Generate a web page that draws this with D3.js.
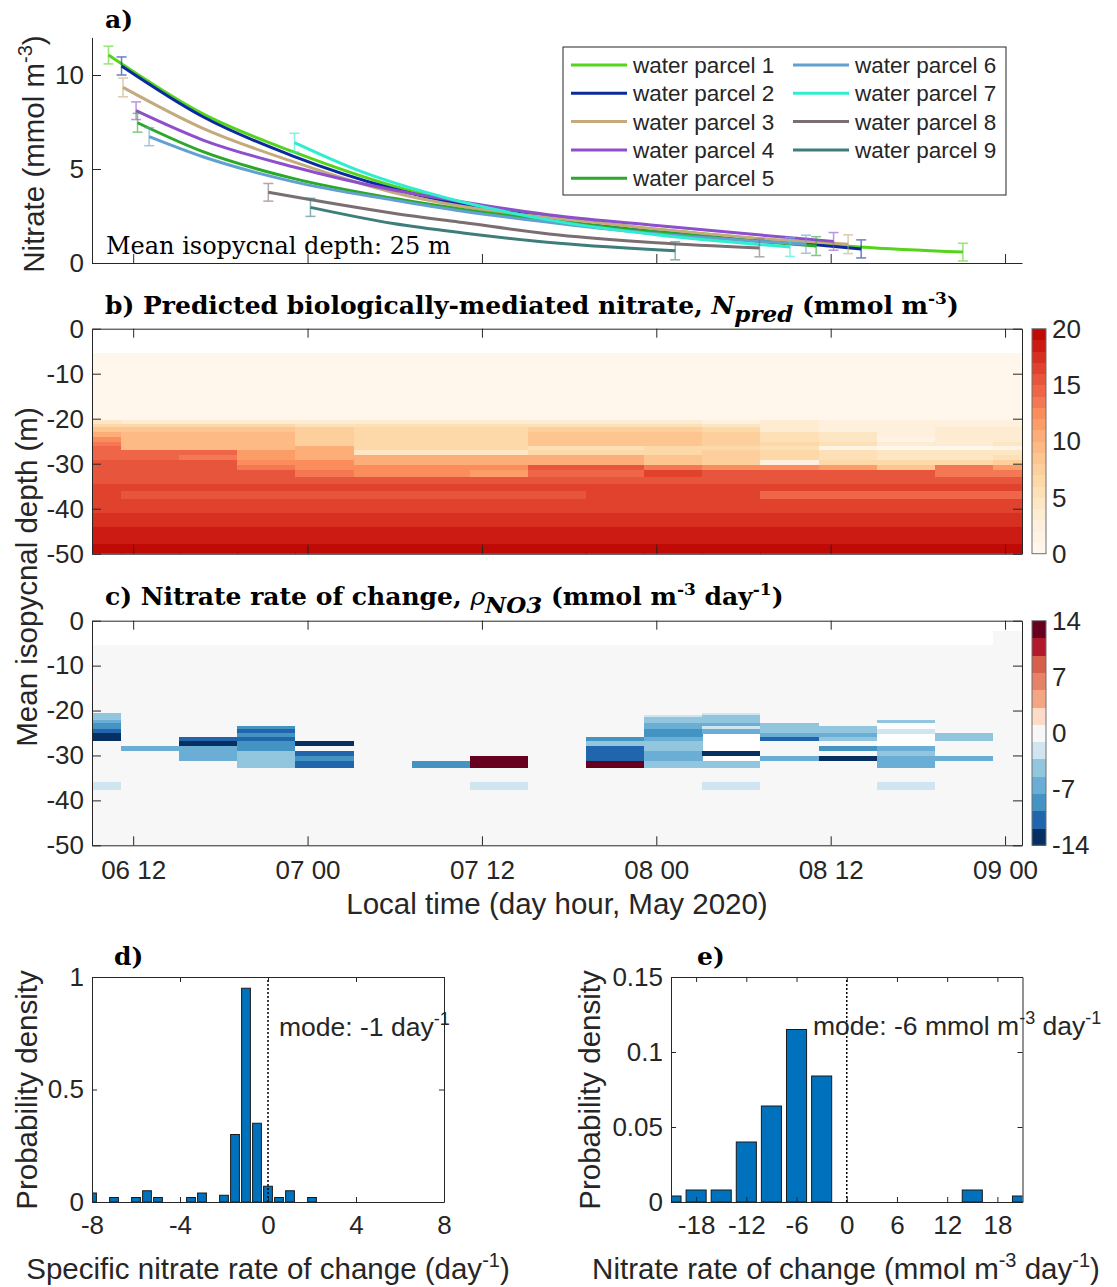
<!DOCTYPE html>
<html>
<head>
<meta charset="utf-8">
<script src="https://cdn.jsdelivr.net/npm/d3@7"></script>
<style>
  body { margin: 0; background: #fff; }
  svg { display: block; }
  text { font-family: "Liberation Sans", Arial, sans-serif; fill: #262626; }
  .serif { font-family: "DejaVu Serif", "Liberation Serif", serif; fill: #000; }
</style>
</head>
<body>
<svg id="chart" width="1117" height="1287"></svg>
<script>
//* Data
// hours since 2020-05-06 00:00 local time
const parcelNames = ["water parcel 1", "water parcel 2", "water parcel 3", "water parcel 4", "water parcel 5",
  "water parcel 6", "water parcel 7", "water parcel 8", "water parcel 9"];
const parcelHours = [
  [10.3, 16.8, 23.0, 29.9, 34.7, 41.3, 48, 55, 62, 69.1],
  [11.2, 16.8, 23.0, 29.9, 34.7, 41.3, 48, 55, 62.1],
  [11.3, 16.8, 23.0, 29.9, 34.7, 41.3, 48, 55, 61.2],
  [12.2, 16.8, 23.0, 29.9, 34.7, 41.3, 48, 55, 60.2],
  [12.3, 16.8, 23.0, 29.9, 34.7, 41.3, 48, 55, 59.0],
  [13.1, 16.8, 23.0, 29.9, 34.7, 41.3, 48, 55, 58.3],
  [23.1, 27.4, 32.3, 41.3, 48, 57.2],
  [21.3, 29.9, 34.7, 41.3, 48, 55.1],
  [24.2, 29.9, 34.7, 41.3, 49.3],
];
const parcelNitrate = [
  [11.06, 7.93, 5.92, 4.1, 3.2, 2.4, 1.8, 1.3, 0.85, 0.58],
  [10.48, 7.78, 5.69, 3.95, 3.1, 2.35, 1.75, 1.25, 0.75],
  [9.34, 7.16, 5.39, 3.75, 3.0, 2.35, 1.8, 1.3, 1.0],
  [8.1, 6.54, 5.12, 3.88, 3.25, 2.5, 2.0, 1.5, 1.15],
  [7.46, 5.92, 4.5, 3.44, 2.85, 2.2, 1.65, 1.15, 0.9],
  [6.72, 5.65, 4.33, 3.35, 2.75, 2.1, 1.55, 1.15, 1.0],
  [6.4, 4.95, 3.72, 2.2, 1.5, 0.85],
  [3.76, 2.65, 2.15, 1.49, 1.08, 0.8],
  [2.96, 2.1, 1.6, 1.05, 0.65],
];
const parcelError = [0.47, 0.48, 0.5, 0.47, 0.5, 0.48, 0.5, 0.47, 0.48];

// 4-hour bins (edges, hours since May 6 00:00)
const binEdgeHours = [7.17, 11.17, 15.17, 19.17, 23.17, 27.17, 31.17, 35.17, 39.17, 43.17,
  47.17, 51.17, 55.17, 59.17, 63.17, 67.17, 71.17, 75.17];

// panel b: layer edges (m below surface) and N_pred per time bin
const nPredDepthEdges = [5.5, 20.3, 21.1, 21.9, 22.9, 24.0, 25.1, 26.1, 27.0, 28.1, 29.2,
  30.3, 31.5, 32.9, 34.4, 36.1, 37.9, 40.9, 44.0, 47.9, 50];
const nPred = [
  [0.5, 4.5, 6.5, 8.5, 10.5, 12.5, 13.5, 14.5, 14.5, 14.5, 15.5, 15.5, 15.5, 15.5, 16.5, 16.5, 16.5, 17.5, 18.5, 19.5],
  [0.5, 3.5, 6.5, 8.5, 9.5, 9.5, 9.5, 9.5, 14.5, 14.5, 15.5, 15.5, 15.5, 15.5, 16.5, 15.5, 16.5, 17.5, 18.5, 19.5],
  [0.5, 3.5, 6.5, 8.5, 9.5, 9.5, 9.5, 9.5, 14.5, 13.5, 15.5, 15.5, 15.5, 15.5, 16.5, 15.5, 16.5, 17.5, 18.5, 19.5],
  [0.5, 3.5, 6.5, 8.5, 9.5, 9.5, 9.5, 9.5, 11.5, 11.5, 12.5, 13.5, 15.5, 15.5, 16.5, 15.5, 16.5, 17.5, 18.5, 19.5],
  [0.5, 3.5, 5.5, 7.5, 7.5, 7.5, 7.5, 10.5, 10.5, 10.5, 12.5, 12.5, 13.5, 15.5, 16.5, 15.5, 16.5, 17.5, 18.5, 19.5],
  [0.5, 3.5, 5.5, 6.5, 6.5, 6.5, 6.5, 6.5, 4.5, 10.5, 10.5, 12.5, 12.5, 15.5, 16.5, 15.5, 16.5, 17.5, 18.5, 19.5],
  [0.5, 3.5, 5.5, 6.5, 6.5, 6.5, 6.5, 6.5, 4.5, 10.5, 10.5, 12.5, 12.5, 15.5, 16.5, 15.5, 16.5, 17.5, 18.5, 19.5],
  [0.5, 3.5, 5.5, 6.5, 6.5, 6.5, 6.5, 6.5, 4.5, 10.5, 10.5, 12.5, 11.5, 15.5, 16.5, 15.5, 16.5, 17.5, 18.5, 19.5],
  [0.5, 3.5, 5.5, 7.5, 8.5, 8.5, 8.5, 5.5, 6.5, 10.5, 10.5, 15.5, 14.5, 15.5, 16.5, 15.5, 16.5, 17.5, 18.5, 19.5],
  [0.5, 3.5, 5.5, 7.5, 8.5, 8.5, 8.5, 5.5, 6.5, 10.5, 10.5, 15.5, 14.5, 15.5, 16.5, 16.5, 16.5, 17.5, 18.5, 19.5],
  [0.5, 3.5, 5.5, 7.5, 8.5, 8.5, 8.5, 6.5, 6.5, 8.5, 8.5, 13.5, 16.5, 15.5, 16.5, 16.5, 16.5, 17.5, 18.5, 19.5],
  [0.5, 2.5, 4.5, 6.5, 7.5, 7.5, 7.5, 6.5, 7.5, 7.5, 7.5, 12.5, 15.5, 15.5, 16.5, 16.5, 16.5, 17.5, 18.5, 19.5],
  [0.5, 3.5, 3.5, 3.5, 5.5, 5.5, 6.5, 5.5, 6.5, 6.5, 2.5, 12.5, 15.5, 15.5, 16.5, 14.5, 16.5, 17.5, 18.5, 19.5],
  [0.5, 2.5, 2.5, 2.5, 4.5, 4.5, 5.5, 1.5, 5.5, 5.5, 6.5, 11.5, 15.5, 15.5, 16.5, 14.5, 16.5, 17.5, 18.5, 19.5],
  [0.5, 2.5, 2.5, 2.5, 2.5, 1.5, 3.5, 0.2, 4.5, 4.5, 6.5, 8.5, 15.5, 15.5, 16.5, 14.5, 16.5, 17.5, 18.5, 19.5],
  [0.5, 2.5, 2.5, 3.5, 3.5, 3.5, 3.5, 0.2, 4.5, 4.5, 6.5, 13.5, 13.5, 15.5, 16.5, 14.5, 16.5, 17.5, 18.5, 19.5],
  [0.5, 2.5, 2.5, 3.5, 3.5, 3.5, 4.5, 1.5, 4.5, 5.5, 7.5, 11.5, 13.5, 15.5, 16.5, 14.5, 16.5, 17.5, 18.5, 19.5],
];

// panel c: layer edges and nitrate rate of change (null = no data)
const rateDepthEdges = [5.5, 20.5, 21.0, 21.5, 22.1, 22.7, 23.5, 24.1, 25.0, 25.8, 26.8,
  27.8, 29.0, 30.1, 31.2, 32.7, 35.8, 37.7, 50];
const rateTopDepth = [5.5, 5.5, 5.5, 5.5, 5.5, 5.5, 5.5, 5.5, 5.5, 5.5, 5.5, 5.5, 5.5, 5.5, 5.5, 5.5, 2.2];
const rate = [
  [0, -4.5, -4.5, -4.5, -6.5, -8.5, -8.5, -11, -13, -13, 0, 0, 0, 0, 0, 0, -2, 0],
  [0, 0, 0, 0, 0, 0, 0, 0, 0, 0, 0, -6.5, 0, 0, 0, 0, 0, 0],
  [0, 0, 0, 0, 0, 0, 0, 0, 0, -11, -13, -6.5, -6.5, -6.5, 0, 0, 0, 0],
  [0, 0, 0, 0, 0, 0, -8.5, -11, -8.5, -11, -8.5, -8.5, -4.5, -4.5, -4.5, 0, 0, 0],
  [0, 0, 0, 0, 0, 0, 0, 0, 0, 0, -13, 0, -11, -8.5, -11, 0, 0, 0],
  [0, 0, 0, 0, 0, 0, 0, 0, 0, 0, 0, 0, 0, 0, 0, 0, 0, 0],
  [0, 0, 0, 0, 0, 0, 0, 0, 0, 0, 0, 0, 0, 0, -8.5, 0, 0, 0],
  [0, 0, 0, 0, 0, 0, 0, 0, 0, 0, 0, 0, 0, 13, 13, 0, -2, 0],
  [0, 0, 0, 0, 0, 0, 0, 0, 0, 0, 0, 0, 0, 0, 0, 0, 0, 0],
  [0, 0, 0, 0, 0, 0, 0, 0, 0, -8.5, -4.5, -11, -11, -11, 13, 0, 0, 0],
  [0, 0, -2, -4.5, -4.5, -6.5, -6.5, -8.5, -8.5, -6.5, -4.5, -4.5, -6.5, -6.5, -4.5, 0, 0, 0],
  [0, -2, -4.5, -4.5, -4.5, -6.5, -2, -6.5, null, null, null, null, -13, null, -4.5, 0, -2, 0],
  [0, 0, 0, 0, 0, -4.5, -4.5, -4.5, -6.5, -11, 0, 0, 0, -6.5, 0, 0, 0, 0],
  [0, 0, 0, 0, 0, 0, -4.5, -4.5, -6.5, -4.5, 0, -8.5, 0, -13, 0, 0, 0, 0],
  [0, 0, 0, 0, -4.5, null, null, -2, null, null, null, -6.5, -4.5, -6.5, -6.5, 0, -2, 0],
  [0, 0, 0, 0, 0, 0, 0, 0, -4.5, -4.5, 0, 0, 0, -6.5, 0, 0, 0, 0],
  [0, 0, 0, 0, 0, 0, 0, 0, 0, 0, 0, 0, 0, 0, 0, 0, 0, 0],
];

// panel d and e histograms (bin centres, probability density)
const specificCenters = [-8, -7, -6, -5.5, -5, -3.5, -3, -2, -1.5, -1, -0.5, 0, 0.5, 1, 2];
const specificDensity = [0.04, 0.02, 0.02, 0.05, 0.02, 0.02, 0.04, 0.03, 0.30, 0.95, 0.35, 0.07, 0.02, 0.05, 0.02];
const rateCenters = [-21, -18, -15, -12, -9, -6, -3, 15, 21];
const rateDensity = [0.004, 0.008, 0.008, 0.040, 0.064, 0.115, 0.084, 0.008, 0.004];

const nitrateTicks = [0, 5, 10];
const depthTicks = [-50, -40, -30, -20, -10, 0];
const nPredBarTicks = [0, 5, 10, 15, 20];
const rateBarTicks = [-14, -7, 0, 7, 14];
const specificTicks = [-8, -4, 0, 4, 8];
const rateHistTicks = [-18, -12, -6, 0, 6, 12, 18];

//* Styles
const axisColor = "#262626";
const tickFont = 26;
const labelFont = 29.5;
const titleFont = 25;
const parcelColors = ["#55d41c", "#0b2a9e", "#c4aa7c", "#8e4fcc", "#2aa82a", "#62a0cf", "#30ecd0", "#7b6e73", "#3f7c7c"];
const redsPalette = ["#fff6ec", "#fff3e6", "#fff0de", "#feecd2", "#fde6c3", "#fde0b5", "#fdd8a8", "#fdcf9c",
  "#fdc590", "#fdba84", "#fcad78", "#fc9d68", "#fb8d5d", "#f47853", "#ef6548", "#e8553d", "#e0422e",
  "#d83020", "#cc1b12", "#c00a06"];
const rdbuPalette = ["#053061", "#2166ac", "#4393c3", "#6aaed6", "#92c5de", "#d1e5f0", "#f7f7f7",
  "#fddbc7", "#f4a582", "#e58268", "#d6604d", "#b2182b", "#67001f"];
const barBlue = "#0072bd";

const svg = d3.select("#chart");
const t0 = new Date(2020, 4, 6, 0, 0);
const toDate = (h) => new Date(t0.getTime() + h * 36e5);

const x = d3.scaleTime().domain([toDate(9 + 1 / 6), toDate(73 + 1 / 6)]).range([92, 1022]);
const timeTicks = x.ticks(d3.timeHour.every(12));
const noLabel = () => "";
const plain = (d) => `${d}`;

function styleAxis(g, size = tickFont) {
  g.select(".domain").attr("stroke", axisColor);
  g.selectAll(".tick line").attr("stroke", axisColor);
  g.selectAll(".tick text").attr("fill", axisColor).style("font-size", `${size}px`);
  return g;
}

function boxAxes(xScale, yScale, opts) {
  const [x0, x1] = xScale.range();
  const [y0, y1] = yScale.range();
  const tl = opts.tickLen;
  const g = svg.append("g");
  g.append("g").attr("transform", `translate(0,${y0})`)
    .call(d3.axisBottom(xScale).tickValues(opts.xTicks).tickSize(-tl).tickSizeOuter(0)
      .tickPadding(opts.xPad || 10).tickFormat(opts.xFormat || noLabel))
    .call(styleAxis);
  g.append("g").attr("transform", `translate(0,${y1})`)
    .call(d3.axisTop(xScale).tickValues(opts.xTicks).tickSize(-tl).tickSizeOuter(0).tickFormat(noLabel))
    .call(styleAxis);
  g.append("g").attr("transform", `translate(${x0},0)`)
    .call(d3.axisLeft(yScale).tickValues(opts.yTicks).tickSize(-tl).tickSizeOuter(0)
      .tickPadding(8).tickFormat(opts.yFormat || plain))
    .call(styleAxis);
  g.append("g").attr("transform", `translate(${x1},0)`)
    .call(d3.axisRight(yScale).tickValues(opts.yTicks).tickSize(-tl).tickSizeOuter(0).tickFormat(noLabel))
    .call(styleAxis);
  return g;
}

function clipRect(id, x0, y0, w, h) {
  svg.append("clipPath").attr("id", id).append("rect")
    .attr("x", x0).attr("y", y0).attr("width", w).attr("height", h);
}

// text with super/subscript pieces: parts = [[str, "sup"|"sub"|null, extraStyle]]
function richText(t, parts, baseSize) {
  const small = Math.round(baseSize * 0.68);
  const up = Math.round(baseSize * 0.4);
  let shift = 0;
  parts.forEach(([str, kind, style]) => {
    const target = kind === "sup" ? -up : kind === "sub" ? Math.round(baseSize * 0.32) : 0;
    const ts = t.append("tspan").attr("dy", target - shift).text(str);
    shift = target;
    if (kind) ts.style("font-size", `${kind === "sub" ? Math.round(baseSize * 0.92) : small}px`);
    if (style) Object.entries(style).forEach(([k, v]) => ts.style(k, v));
  });
}

//* Panel a
const yA = d3.scaleLinear().domain([0, 12]).range([263, 37.4]);
const gA = svg.append("g");
gA.append("g").attr("transform", "translate(0,263)")
  .call(d3.axisBottom(x).tickValues(timeTicks).tickSize(-9).tickSizeOuter(0).tickFormat(noLabel))
  .call(styleAxis);
gA.append("g").attr("transform", "translate(92,0)")
  .call(d3.axisLeft(yA).tickValues(nitrateTicks).tickSize(-9).tickSizeOuter(0).tickPadding(8))
  .call(styleAxis);

const parcelLine = d3.line()
  .x((d) => x(toDate(d[0])))
  .y((d) => yA(d[1]))
  .curve(d3.curveMonotoneX);

parcelHours.forEach((hours, i) => {
  const pts = hours.map((h, j) => [h, parcelNitrate[i][j]]);
  gA.append("path")
    .attr("d", parcelLine(pts))
    .attr("fill", "none")
    .attr("stroke", parcelColors[i])
    .attr("stroke-width", 3);
  [pts[0], pts[pts.length - 1]].forEach((p) => {
    const cx = x(toDate(p[0]));
    const top = yA(p[1] + parcelError[i]);
    const bot = yA(p[1] - parcelError[i]);
    const eb = gA.append("g").attr("stroke", parcelColors[i]).attr("stroke-width", 1.5).attr("opacity", 0.6);
    eb.append("line").attr("x1", cx).attr("x2", cx).attr("y1", top).attr("y2", bot);
    eb.append("line").attr("x1", cx - 5).attr("x2", cx + 5).attr("y1", top).attr("y2", top);
    eb.append("line").attr("x1", cx - 5).attr("x2", cx + 5).attr("y1", bot).attr("y2", bot);
  });
});

gA.append("text").attr("class", "serif").attr("x", 106).attr("y", 254)
  .style("font-size", "24px").text("Mean isopycnal depth: 25 m");

// legend
const legend = svg.append("g");
legend.append("rect").attr("x", 563).attr("y", 47).attr("width", 443).attr("height", 148)
  .attr("fill", "#fff").attr("stroke", axisColor).attr("stroke-width", 1);
parcelNames.forEach((name, i) => {
  const col = i < 5 ? 0 : 1;
  const row = i < 5 ? i : i - 5;
  const lx = col === 0 ? 571 : 793;
  const ly = 65 + row * 28.3;
  legend.append("line").attr("x1", lx).attr("x2", lx + 56).attr("y1", ly).attr("y2", ly)
    .attr("stroke", parcelColors[i]).attr("stroke-width", 3);
  legend.append("text").attr("x", lx + 62).attr("y", ly).attr("dy", "0.36em")
    .style("font-size", "22.5px").attr("fill", "#000").text(name);
});

svg.append("text").attr("class", "serif").attr("x", 105).attr("y", 28)
  .style("font-size", `${titleFont}px`).style("font-weight", "bold").text("a)");

svg.append("text").attr("transform", "translate(44,154) rotate(-90)").attr("text-anchor", "middle")
  .style("font-size", `${labelFont}px`)
  .call((t) => richText(t, [["Nitrate (mmol m"], ["-3", "sup"], [")"]], labelFont));

//* Panel b
const yB = d3.scaleLinear().domain([-50, 0]).range([553.7, 328.7]);
const redScale = d3.scaleQuantize().domain([0, 20]).range(redsPalette);
clipRect("clip-b", 92, 328.7, 930, 225);
const gB = svg.append("g").attr("clip-path", "url(#clip-b)");
nPred.forEach((col, k) => {
  const xl = x(toDate(binEdgeHours[k]));
  const xr = x(toDate(binEdgeHours[k + 1]));
  col.forEach((v, j) => {
    const yt = yB(-nPredDepthEdges[j]);
    const yb = yB(-nPredDepthEdges[j + 1]);
    gB.append("rect").attr("x", xl).attr("y", yt).attr("width", xr - xl + 0.5).attr("height", yb - yt + 0.5)
      .attr("fill", redScale(v)).attr("shape-rendering", "crispEdges");
  });
});
boxAxes(x, yB, { xTicks: timeTicks, yTicks: depthTicks, tickLen: 9 });

// colorbar b
const cbB = d3.scaleLinear().domain([0, 20]).range([553.7, 328.7]);
const gCbB = svg.append("g");
redsPalette.forEach((c, i) => {
  gCbB.append("rect").attr("x", 1032).attr("y", cbB(i + 1)).attr("width", 14)
    .attr("height", cbB(i) - cbB(i + 1) + 0.5).attr("fill", c).attr("shape-rendering", "crispEdges");
});
gCbB.append("rect").attr("x", 1032).attr("y", 328.7).attr("width", 14).attr("height", 225)
  .attr("fill", "none").attr("stroke", "#6e6e6e");
nPredBarTicks.forEach((t) => {
  gCbB.append("text").attr("x", 1052).attr("y", cbB(t)).attr("dy", "0.35em")
    .style("font-size", `${tickFont}px`).text(t);
});

svg.append("text").attr("class", "serif").attr("x", 105).attr("y", 314)
  .style("font-size", `${titleFont}px`).style("font-weight", "bold")
  .call((t) => richText(t, [
    ["b) Predicted biologically-mediated nitrate, "],
    ["N", null, { "font-style": "italic" }],
    ["pred", "sub", { "font-style": "italic" }],
    [" (mmol m"],
    ["-3", "sup"],
    [")"],
  ], titleFont));

//* Panel c
const yC = d3.scaleLinear().domain([-50, 0]).range([845.3, 620.7]);
const rateScale = d3.scaleQuantize().domain([-14, 14]).range(rdbuPalette);
clipRect("clip-c", 92, 620.7, 930, 224.6);
const gC = svg.append("g").attr("clip-path", "url(#clip-c)");
rate.forEach((col, k) => {
  const xl = x(toDate(binEdgeHours[k]));
  const xr = x(toDate(binEdgeHours[k + 1]));
  col.forEach((v, j) => {
    if (v === null) return;
    const top = j === 0 ? rateTopDepth[k] : rateDepthEdges[j];
    const yt = yC(-top);
    const yb = yC(-rateDepthEdges[j + 1]);
    gC.append("rect").attr("x", xl).attr("y", yt).attr("width", xr - xl + 0.5).attr("height", yb - yt + 0.5)
      .attr("fill", rateScale(v)).attr("shape-rendering", "crispEdges");
  });
});
boxAxes(x, yC, {
  xTicks: timeTicks, yTicks: depthTicks, tickLen: 9, xPad: 15,
  xFormat: d3.timeFormat("%d %H"),
});

// colorbar c
const cbC = d3.scaleLinear().domain([-14, 14]).range([845.3, 620.7]);
const gCbC = svg.append("g");
const band = 28 / rdbuPalette.length;
rdbuPalette.forEach((c, i) => {
  const lo = -14 + i * band;
  gCbC.append("rect").attr("x", 1032).attr("y", cbC(lo + band)).attr("width", 14)
    .attr("height", cbC(lo) - cbC(lo + band) + 0.5).attr("fill", c).attr("shape-rendering", "crispEdges");
});
gCbC.append("rect").attr("x", 1032).attr("y", 620.7).attr("width", 14).attr("height", 224.6)
  .attr("fill", "none").attr("stroke", "#6e6e6e");
rateBarTicks.forEach((t) => {
  gCbC.append("text").attr("x", 1052).attr("y", cbC(t)).attr("dy", "0.35em")
    .style("font-size", `${tickFont}px`).text(t);
});

svg.append("text").attr("class", "serif").attr("x", 105).attr("y", 605)
  .style("font-size", `${titleFont}px`).style("font-weight", "bold")
  .call((t) => richText(t, [
    ["c) Nitrate rate of change, "],
    ["ρ", null, { "font-style": "italic", "font-weight": "normal" }],
    ["NO3", "sub", { "font-style": "italic" }],
    [" (mmol m"],
    ["-3", "sup"],
    [" day"],
    ["-1", "sup"],
    [")"],
  ], titleFont));

svg.append("text").attr("transform", "translate(37,577) rotate(-90)").attr("text-anchor", "middle")
  .style("font-size", `${labelFont}px`).text("Mean isopycnal depth (m)");
svg.append("text").attr("x", 557).attr("y", 914).attr("text-anchor", "middle")
  .style("font-size", `${labelFont}px`).text("Local time (day hour, May 2020)");

//* Panels d and e
function histogram(cfg) {
  const xs = d3.scaleLinear().domain(cfg.xDomain).range(cfg.xRange);
  const ys = d3.scaleLinear().domain(cfg.yDomain).range([1202, 977]);
  clipRect(cfg.id, cfg.xRange[0], 977, cfg.xRange[1] - cfg.xRange[0], 225);
  const g = svg.append("g").attr("clip-path", `url(#${cfg.id})`);
  g.selectAll("rect")
    .data(cfg.centers.map((c, i) => [c, cfg.density[i]]))
    .join("rect")
    .attr("x", (d) => xs(d[0] - cfg.halfWidth))
    .attr("y", (d) => ys(d[1]))
    .attr("width", (d) => xs(d[0] + cfg.halfWidth) - xs(d[0] - cfg.halfWidth))
    .attr("height", (d) => ys(0) - ys(d[1]))
    .attr("fill", barBlue)
    .attr("stroke", "#1a1a1a")
    .attr("stroke-width", 1);
  svg.append("line").attr("x1", xs(0)).attr("x2", xs(0)).attr("y1", ys(0)).attr("y2", ys(cfg.yDomain[1]))
    .attr("stroke", "#000").attr("stroke-width", 1.5).attr("stroke-dasharray", "2,2");
  boxAxes(xs, ys, {
    xTicks: cfg.xTicks, yTicks: cfg.yTicks, tickLen: 5, xPad: 14,
    xFormat: plain, yFormat: plain,
  });
  return xs;
}

histogram({
  id: "clip-d", xDomain: [-8, 8], xRange: [92, 444], yDomain: [0, 1],
  centers: specificCenters, density: specificDensity, halfWidth: 0.2,
  xTicks: specificTicks, yTicks: [0, 0.5, 1],
});
histogram({
  id: "clip-e", xDomain: [-21, 21], xRange: [671, 1022.5], yDomain: [0, 0.15],
  centers: rateCenters, density: rateDensity, halfWidth: 1.2,
  xTicks: rateHistTicks, yTicks: [0, 0.05, 0.1, 0.15],
});

const modeFont = 26.5;
svg.append("text").attr("x", 279).attr("y", 1036).style("font-size", `${modeFont}px`).attr("fill", "#000")
  .call((t) => richText(t, [["mode: -1 day"], ["-1", "sup"]], modeFont));
svg.append("text").attr("x", 813).attr("y", 1035).style("font-size", `${modeFont}px`).attr("fill", "#000")
  .call((t) => richText(t, [["mode: -6 mmol m"], ["-3", "sup"], [" day"], ["-1", "sup"]], modeFont));

svg.append("text").attr("class", "serif").attr("x", 114).attr("y", 965)
  .style("font-size", `${titleFont}px`).style("font-weight", "bold").text("d)");
svg.append("text").attr("class", "serif").attr("x", 697).attr("y", 965)
  .style("font-size", `${titleFont}px`).style("font-weight", "bold").text("e)");

svg.append("text").attr("transform", "translate(37,1090) rotate(-90)").attr("text-anchor", "middle")
  .style("font-size", `${labelFont}px`).text("Probability density");
svg.append("text").attr("transform", "translate(600,1090) rotate(-90)").attr("text-anchor", "middle")
  .style("font-size", `${labelFont}px`).text("Probability density");

svg.append("text").attr("x", 268).attr("y", 1279).attr("text-anchor", "middle").style("font-size", `${labelFont}px`)
  .call((t) => richText(t, [["Specific nitrate rate of change (day"], ["-1", "sup"], [")"]], labelFont));
svg.append("text").attr("x", 846).attr("y", 1279).attr("text-anchor", "middle").style("font-size", `${labelFont}px`)
  .call((t) => richText(t, [["Nitrate rate of change (mmol m"], ["-3", "sup"], [" day"], ["-1", "sup"], [")"]], labelFont));
</script>
</body>
</html>
